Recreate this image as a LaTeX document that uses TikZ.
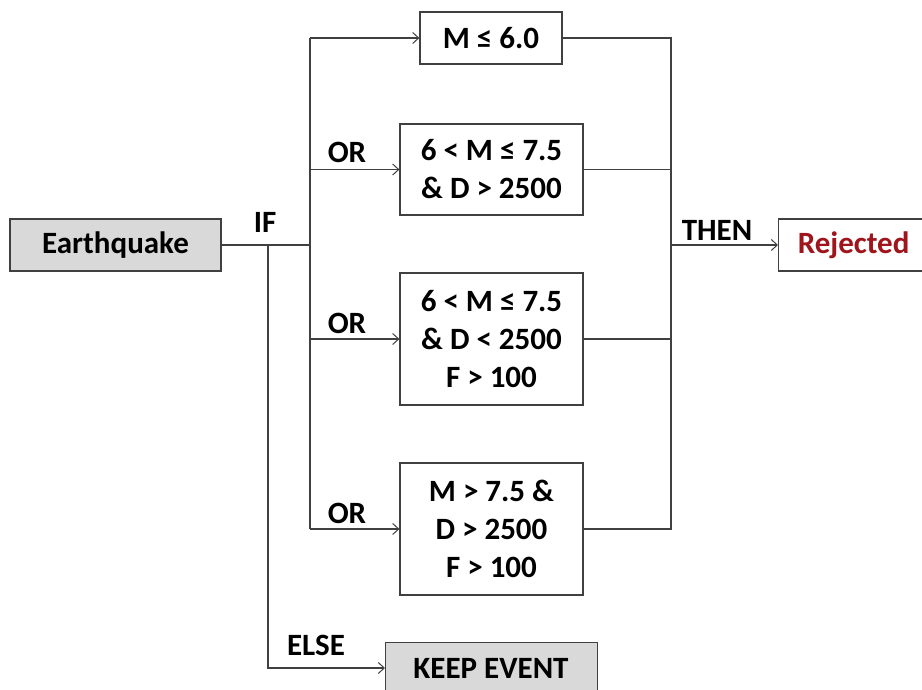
\documentclass[tikz,border=0pt]{standalone}
\usepackage{fontspec}
\setmainfont{Carlito}
\usetikzlibrary{arrows.meta}
\definecolor{lin}{HTML}{404040}
\definecolor{boxgray}{HTML}{D9D9D9}
\definecolor{rejred}{HTML}{A0151C}
\tikzset{
  cond/.style={draw=lin, line width=1.2pt, fill=white, align=center, inner sep=0pt,
    font=\fontsize{31}{38}\selectfont\bfseries, text=black},
  graybox/.style={cond, fill=boxgray},
  wire/.style={draw=lin, line width=1.1pt},
  arr/.style={wire, -{Straight Barb[length=6pt,width=11pt,line width=1pt]}},
  lbl/.style={font=\fontsize{31}{34}\selectfont\bfseries, text=black, inner sep=0pt}
}
\begin{document}
\begin{tikzpicture}[x=1pt,y=-1pt]
\useasboundingbox (0,0) rectangle (922,690);
\fill[white] (0,0) rectangle (922,690);
% nodes
\node[graybox, minimum width=211pt, minimum height=52pt] (eq) at (115.5,245) {Earthquake};
\node[cond, minimum width=142pt, minimum height=52pt] (b1) at (491,38) {M ≤ 6.0};
\node[cond, minimum width=183pt, minimum height=91pt] (b2) at (491.5,169.5) {6 < M ≤ 7.5\\\& D > 2500};
\node[cond, minimum width=183pt, minimum height=132pt] (b3) at (491.5,339) {6 < M ≤ 7.5\\\& D < 2500\\F > 100};
\node[cond, minimum width=183pt, minimum height=132pt] (b4) at (491.5,529) {M > 7.5 \&\\D > 2500\\F > 100};
\node[cond, anchor=west, minimum width=160pt, minimum height=52pt, text=rejred] (rej) at (778,245) {\hspace*{-10pt}Rejected};
\node[graybox, anchor=north west, minimum width=212pt, minimum height=60pt] (keep) at (385,642) {};
\node[lbl] (keeptxt) at (491,668) {KEEP EVENT};
% junction coordinates
\coordinate (jL) at (310,245);
\coordinate (jE) at (268,245);
\coordinate (jR) at (671,245);
\coordinate (eb) at (268,668);
% labels
\node[lbl] (if) at (265,222) {IF};
\node[lbl] (or1) at (347,152) {OR};
\node[lbl] (or2) at (347,323) {OR};
\node[lbl] (or3) at (347,513) {OR};
\node[lbl] (then) at (717,230) {THEN};
\node[lbl] (else) at (316,645) {ELSE};
% connectors
\draw[wire] (eq.east) -- (jL);
\draw[wire] (b1.west -| jL) -- (b4.west -| jL);
\draw[arr] (b1.west -| jL) -- (b1.west);
\draw[arr] (b2.west -| jL) -- (b2.west);
\draw[arr] (b3.west -| jL) -- (b3.west);
\draw[arr] (b4.west -| jL) -- (b4.west);
\draw[wire] (b1.east) -- (b1.east -| jR) -- (b4.east -| jR) -- (b4.east);
\draw[wire] (b2.east) -- (b2.east -| jR);
\draw[wire] (b3.east) -- (b3.east -| jR);
\draw[arr] (jR) -- (rej.west);
\draw[arr] (jE) -- (eb) -- (keep.west |- eb);
\end{tikzpicture}
\end{document}
